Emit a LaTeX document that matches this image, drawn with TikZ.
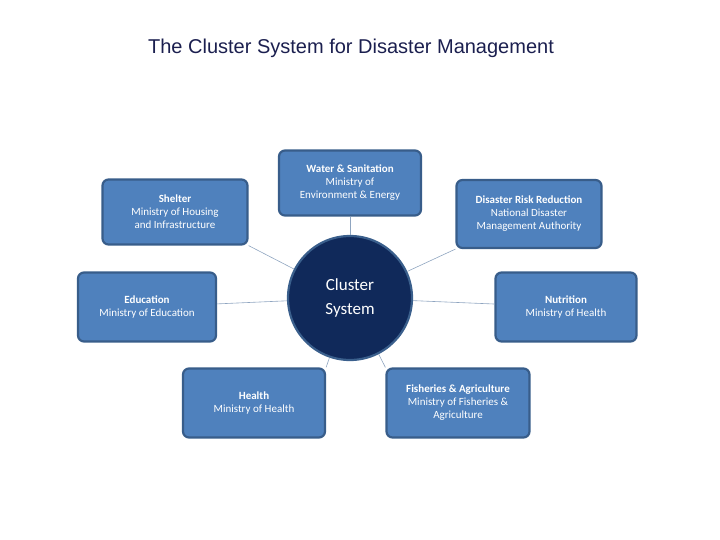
\documentclass[tikz,border=0pt]{standalone}
\usepackage{fontspec}
\setmainfont{Carlito}
\newfontfamily\titlefont{Liberation Sans}
\begin{document}
\begin{tikzpicture}[x=1pt,y=-1pt,
  box/.style={draw=boxborder,line width=2.2pt,fill=boxfill,rounded corners=6pt,text=white,align=center,font=\fontsize{11}{13}\selectfont,inner sep=0pt},
  link/.style={draw=linkcol,line width=0.6pt}]
\definecolor{boxfill}{HTML}{4F81BD}
\definecolor{boxborder}{HTML}{385D8A}
\definecolor{circfill}{HTML}{10295A}
\definecolor{circborder}{HTML}{3A5F8C}
\definecolor{linkcol}{HTML}{8FA5C0}
\definecolor{titlecol}{HTML}{1B1F4F}
\useasboundingbox (0,0) rectangle (720,540);
\node[font=\titlefont\fontsize{20}{24}\selectfont,text=titlecol] (title) at (351,48) {The Cluster System for Disaster Management};
\node[circle,draw=circborder,line width=2.2pt,fill=circfill,minimum size=124pt,text=white,align=center,font=\fontsize{17}{24}\selectfont,inner sep=0pt] (c) at (350,298) {Cluster\\System};
\node[box,minimum width=145pt,minimum height=65pt] (shelter) at (175,212) {\textbf{Shelter}\\Ministry of Housing\\and Infrastructure};
\node[box,minimum width=142pt,minimum height=65pt] (water) at (350,183) {\textbf{Water \& Sanitation}\\Ministry of\\Environment \& Energy};
\node[box,minimum width=145pt,minimum height=68pt] (drr) at (529,214) {\textbf{Disaster Risk Reduction}\\National Disaster\\Management Authority};
\node[box,minimum width=138pt,minimum height=69pt] (edu) at (147,307) {\textbf{Education}\\Ministry of Education};
\node[box,minimum width=141pt,minimum height=69pt] (nut) at (566,307) {\textbf{Nutrition}\\Ministry of Health};
\node[box,minimum width=142pt,minimum height=69pt] (health) at (254,403) {\textbf{Health}\\Ministry of Health};
\node[box,minimum width=143pt,minimum height=69pt] (fish) at (458,403) {\textbf{Fisheries \& Agriculture}\\Ministry of Fisheries \&\\Agriculture};
\begin{scope}[on background layer/.style={}]
\end{scope}
\path[link] (c) -- (water);
\path[link] (c) -- (shelter.south east);
\path[link] (c) -- (drr.south west);
\path[link] (c) -- (edu);
\path[link] (c) -- (nut);
\path[link] (c) -- (health.north east);
\path[link] (c) -- (fish.north west);
\end{tikzpicture}
\end{document}
